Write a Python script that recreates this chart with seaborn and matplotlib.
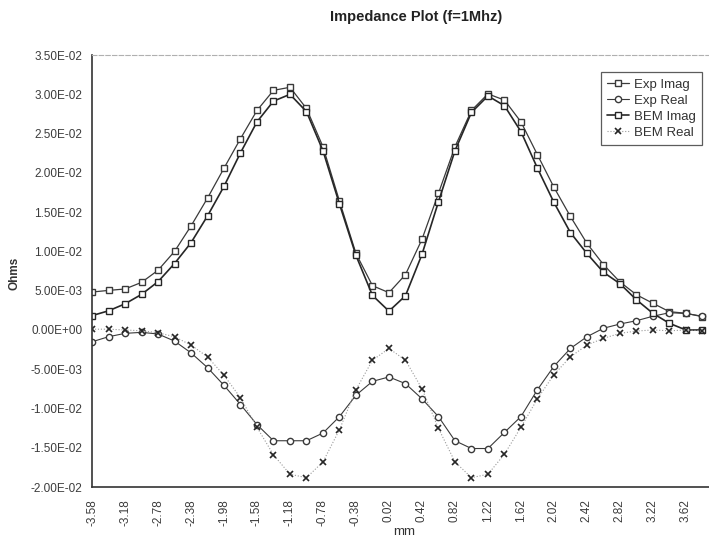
import matplotlib
matplotlib.use("Agg")
import matplotlib.pyplot as plt
from matplotlib.ticker import FuncFormatter, MultipleLocator
import seaborn as sns

# categories along the probe path (mm)
mm = [-3.58, -3.38, -3.18, -2.98, -2.78, -2.58, -2.38, -2.18, -1.98, -1.78,
      -1.58, -1.38, -1.18, -0.98, -0.78, -0.58, -0.38, -0.18, 0.02, 0.22,
      0.42, 0.62, 0.82, 1.02, 1.22, 1.42, 1.62, 1.82, 2.02, 2.22,
      2.42, 2.62, 2.82, 3.02, 3.22, 3.42, 3.62, 3.82]

exp_imag = [4.83e-3, 5.04e-3, 5.22e-3, 6.06e-3, 7.60e-3, 1.000e-2, 1.324e-2, 1.679e-2, 2.060e-2, 2.436e-2,
            2.795e-2, 3.051e-2, 3.090e-2, 2.82e-2, 2.333e-2, 1.641e-2, 9.74e-3, 5.64e-3, 4.75e-3, 7.05e-3,
            1.154e-2, 1.740e-2, 2.333e-2, 2.795e-2, 3.006e-2, 2.927e-2, 2.650e-2, 2.231e-2, 1.817e-2, 1.445e-2,
            1.103e-2, 8.33e-3, 6.12e-3, 4.49e-3, 3.40e-3, 2.33e-3, 2.13e-3, 1.69e-3]

exp_real = [-1.50e-3, -8.6e-4, -4.3e-4, -3.0e-4, -5.1e-4, -1.41e-3, -2.91e-3, -4.79e-3, -7.05e-3, -9.49e-3,
            -1.205e-2, -1.41e-2, -1.41e-2, -1.41e-2, -1.312e-2, -1.103e-2, -8.3e-3, -6.54e-3, -5.98e-3, -6.83e-3,
            -8.76e-3, -1.103e-2, -1.41e-2, -1.509e-2, -1.509e-2, -1.304e-2, -1.103e-2, -7.60e-3, -4.62e-3, -2.35e-3,
            -8.6e-4, 2.2e-4, 7.6e-4, 1.18e-3, 1.75e-3, 2.2e-3, 2.1e-3, 1.75e-3]

bem_imag = [1.83e-3, 2.44e-3, 3.33e-3, 4.53e-3, 6.15e-3, 8.46e-3, 1.111e-2, 1.452e-2, 1.829e-2, 2.256e-2,
            2.650e-2, 2.914e-2, 3.000e-2, 2.78e-2, 2.282e-2, 1.603e-2, 9.49e-3, 4.40e-3, 2.40e-3, 4.36e-3,
            9.62e-3, 1.632e-2, 2.282e-2, 2.77e-2, 2.98e-2, 2.855e-2, 2.526e-2, 2.060e-2, 1.624e-2, 1.240e-2,
            9.74e-3, 7.35e-3, 5.90e-3, 3.85e-3, 2.12e-3, 8.5e-4, 0.0, 0.0]

bem_real = [1e-4, 1e-4, 0.0, -1e-4, -3.5e-4, -8.6e-4, -1.92e-3, -3.42e-3, -5.77e-3, -8.63e-3,
            -1.239e-2, -1.590e-2, -1.837e-2, -1.88e-2, -1.679e-2, -1.269e-2, -7.6e-3, -3.85e-3, -2.35e-3, -3.85e-3,
            -7.47e-3, -1.252e-2, -1.679e-2, -1.88e-2, -1.837e-2, -1.581e-2, -1.239e-2, -8.76e-3, -5.68e-3, -3.42e-3,
            -1.92e-3, -1.06e-3, -4.3e-4, -1.3e-4, 0.0, -1e-4, 0.0, -1e-4]

sns.set_style("white")
plt.rcParams['font.family'] = ['Liberation Sans', 'DejaVu Sans']

fig = plt.figure(figsize=(7.09, 5.40), dpi=100)
ax = fig.add_axes([0.1298, 0.098, 0.8702, 0.80])

dark = '#3a3a3a'
sns.lineplot(x=mm, y=exp_imag, ax=ax, color=dark, lw=0.9, marker='s', ms=4.5,
             mfc='white', mec=dark, mew=1.0, label='Exp Imag', sort=False)
sns.lineplot(x=mm, y=exp_real, ax=ax, color=dark, lw=0.8, marker='o', ms=4.5,
             mfc='white', mec=dark, mew=1.0, label='Exp Real', sort=False)
sns.lineplot(x=mm, y=bem_imag, ax=ax, color='#262626', lw=1.2, marker='s', ms=4.5,
             mfc='white', mec='#262626', mew=1.0, label='BEM Imag', sort=False)
sns.lineplot(x=mm, y=bem_real, ax=ax, color='#9a9a9a', lw=0.8, ls=':', marker='x', ms=5,
             mec='#262626', mew=1.2, label='BEM Real', sort=False)

ax.set_xlim(-3.58, 3.90)
ax.set_ylim(-0.02, 0.035)
ax.yaxis.set_major_locator(MultipleLocator(0.005))
ax.yaxis.set_major_formatter(FuncFormatter(lambda v, p: '{:.2E}'.format(0.0 if abs(v) < 1e-12 else v)))
ax.set_xticks(mm, minor=True)
ax.set_xticks(mm[::2])
ax.set_xticklabels(['%.2f' % v for v in mm[::2]], rotation=90)

ax.tick_params(axis='both', which='both', direction='inout', colors='#3c3c3c', width=0.9)
ax.tick_params(axis='y', length=6, labelsize=8.5, pad=4)
ax.tick_params(axis='x', which='major', length=7, labelsize=8.5, pad=5)
ax.tick_params(axis='x', which='minor', length=7)

for s in ['left', 'bottom']:
    ax.spines[s].set_color('#333333')
    ax.spines[s].set_linewidth(1.2)
ax.spines['right'].set_visible(False)
ax.spines['top'].set_color('#b0b0b0')
ax.spines['top'].set_linestyle((0, (4, 2)))
ax.spines['top'].set_linewidth(0.8)

ax.set_xlabel('')
ax.set_ylabel('')
fig.text(0.021, 0.494, 'Ohms', rotation=90, fontsize=8.5, fontweight='bold', color='#333333',
         ha='center', va='center')
fig.text(0.57, 0.004, 'mm', fontsize=9.5, color='#333333', ha='center', va='bottom')
fig.text(0.587, 0.969, 'Impedance Plot (f=1Mhz)', fontsize=10.5, fontweight='bold',
         color='#222222', ha='center', va='center')

leg = ax.legend(loc='upper right', bbox_to_anchor=(0.988, 0.96), fontsize=9.5, frameon=True,
                fancybox=False, edgecolor='#333333', handlelength=1.7, handletextpad=0.35,
                borderpad=0.45, labelspacing=0.3, borderaxespad=0.0)
leg.get_frame().set_linewidth(0.9)
for t in leg.get_texts():
    t.set_color('#333333')

fig.savefig('out.png', dpi=100)
